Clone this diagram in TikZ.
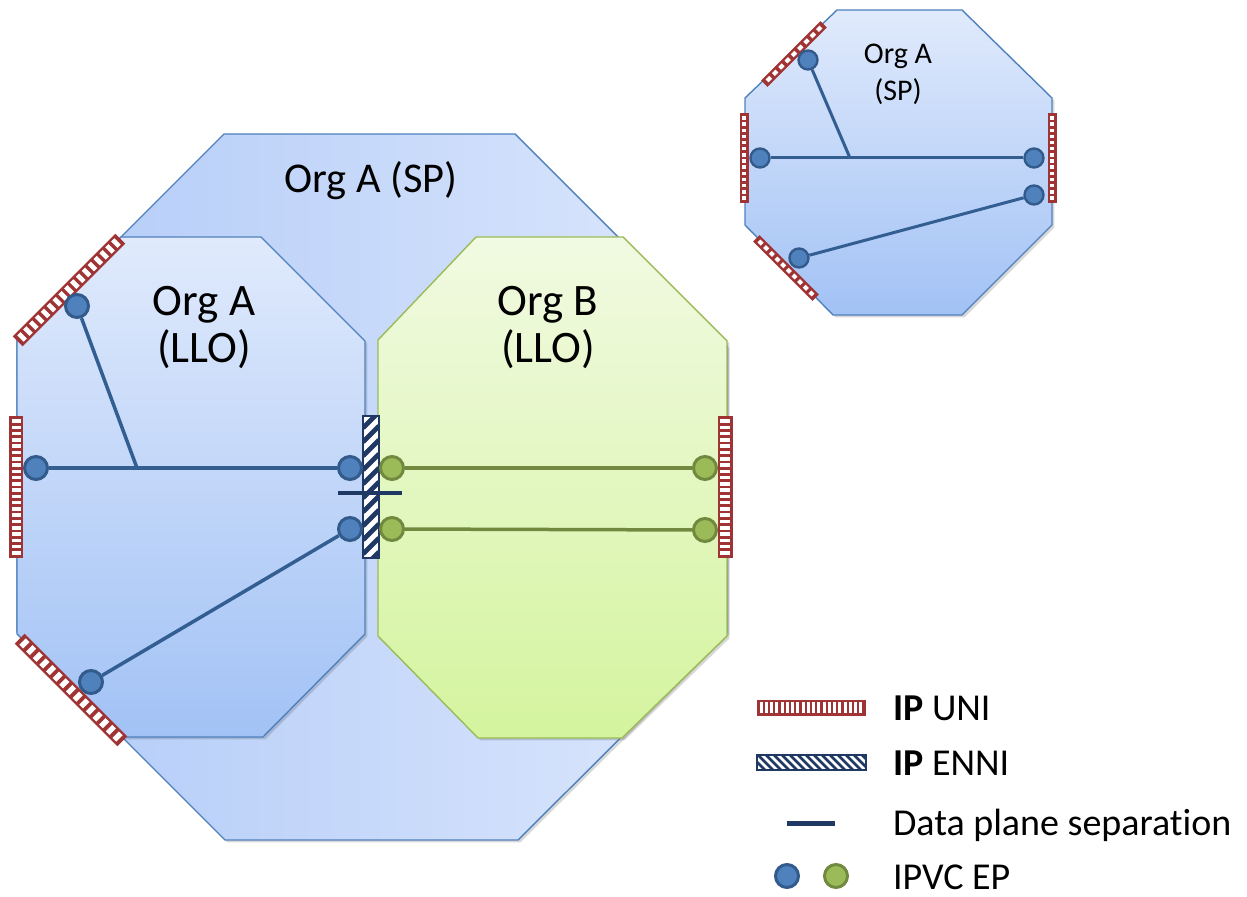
\documentclass[tikz,border=0pt]{standalone}
\usepackage{fontspec}
\setmainfont{Carlito}[Ligatures=NoCommon]
\usetikzlibrary{shadows}
\definecolor{edgeblue}{RGB}{79,129,189}
\definecolor{spleft}{RGB}{178,203,248}
\definecolor{spright}{RGB}{220,231,252}
\definecolor{llotop}{RGB}{224,234,252}
\definecolor{llobot}{RGB}{162,194,245}
\definecolor{edgegreen}{RGB}{155,187,89}
\definecolor{greentop}{RGB}{241,250,226}
\definecolor{greenbot}{RGB}{212,244,158}
\definecolor{epblue}{RGB}{79,129,189}
\definecolor{epblueedge}{RGB}{50,90,138}
\definecolor{epgreen}{RGB}{155,187,89}
\definecolor{epgreenedge}{RGB}{113,137,63}
\definecolor{vcline}{RGB}{50,94,145}
\definecolor{unired}{RGB}{160,52,52}
\definecolor{enninavy}{RGB}{31,56,100}

% UNI bar: centre, angle, length, width, rungs
\newcommand{\unibar}[5]{%
  \begin{scope}[shift={#1},rotate=#2]
    \fill[unired] (-#3/2,-#4/2) rectangle (#3/2,#4/2);
    \pgfmathsetmacro\rungp{(#3-4)/#5}
    \foreach \k in {1,...,#5} {
      \pgfmathsetmacro\rungc{-#3/2+2+(\k-0.5)*\rungp}
      \fill[white] (\rungc-0.28*\rungp,-#4/2+2.5) rectangle (\rungc+0.28*\rungp,#4/2-2.5);
    }
  \end{scope}}

% ENNI bar: centre, angle, length, width, stripe pitch
\newcommand{\ennibar}[5]{%
  \begin{scope}[shift={#1},rotate=#2]
    \fill[white] (-#3/2,-#4/2) rectangle (#3/2,#4/2);
    \begin{scope}
      \clip (-#3/2,-#4/2) rectangle (#3/2,#4/2);
      \foreach \k in {0,...,24} {
        \pgfmathsetmacro\stripex{-#3/2-#4+\k*#5}
        \draw[enninavy,line width=0.17*#5pt] (\stripex-#4/2,-#4/2) -- (\stripex+#4/2,#4/2);
      }
    \end{scope}
    \draw[enninavy,line width=1pt] (-#3/2,-#4/2) rectangle (#3/2,#4/2);
  \end{scope}}

\begin{document}
\begin{tikzpicture}[x=0.5pt,y=-0.5pt,
    softshadow/.style={drop shadow={shadow xshift=1.2pt,shadow yshift=-1.2pt,opacity=0.22,fill=black!70}},
    orgsp/.style={draw=edgeblue,line width=0.7pt,left color=spleft,right color=spright},
    orgllo/.style={draw=edgeblue,line width=0.7pt,top color=llotop,bottom color=llobot},
    orggreen/.style={draw=edgegreen,line width=0.7pt,top color=greentop,bottom color=greenbot},
    epb/.style={circle,draw=epblueedge,fill=epblue,line width=1.5pt,minimum size=11.5pt,inner sep=0pt},
    epg/.style={circle,draw=epgreenedge,fill=epgreen,line width=1.5pt,minimum size=11.5pt,inner sep=0pt},
    epsmall/.style={epb,minimum size=9.5pt,line width=1.2pt},
    vcblue/.style={draw=vcline,line width=1.75pt},
    vcgreen/.style={draw=epgreenedge,line width=1.75pt},
    dpsep/.style={draw=enninavy,line width=2pt},
    orglabel/.style={font=\fontsize{22.5}{23.5}\selectfont,align=center},
    smalllabel/.style={font=\fontsize{15}{18.5}\selectfont,align=center},
    legendtext/.style={font=\fontsize{19}{22}\selectfont,anchor=west}]
  \useasboundingbox (0,0) rectangle (1247,897);

  % Org A (SP) outer octagon
  \path[orgsp,softshadow] (224,134) -- (515,134) -- (727,346) -- (727,632)
    -- (518,840) -- (225,840) -- (17,632) -- (17,341) -- cycle;
  \node[orglabel,font=\fontsize{21.2}{24}\selectfont] (lblsp) at (371,181) {Org A (SP)};

  % Org A (LLO) and Org B (LLO)
  \path[orgllo,softshadow] (121,237) -- (261,237) -- (365,341) -- (365,634)
    -- (263,737) -- (123,737) -- (17,634) -- (17,341) -- cycle;
  \path[orggreen,softshadow] (476,237) -- (623,237) -- (727,341) -- (727,636)
    -- (622,738) -- (478,738) -- (378,636) -- (378,340) -- cycle;
  \node[orglabel] (lblalo) at (204,328) {Org A\\(LLO)};
  \node[orglabel] (lblblo) at (548,328) {Org B\\(LLO)};

  % small Org A (SP)
  \path[orgllo,softshadow] (837,10) -- (962,10) -- (1052,98) -- (1052,225)
    -- (962,315) -- (833,315) -- (745,225) -- (745,98) -- cycle;
  \node[smalllabel] (lblsmall) at (898,74) {Org A\\(SP)};

  % UNIs and ENNI
  \unibar{(69,290)}{45}{145}{14}{17}
  \unibar{(16,487)}{90}{142}{14}{22}
  \unibar{(71,690)}{-45}{145}{14}{15}
  \unibar{(725,487)}{90}{142}{15}{22}
  \ennibar{(371,487)}{90}{142}{16}{14}
  \unibar{(794,54)}{45}{84}{9}{9}
  \unibar{(744,158)}{90}{90}{9}{14}
  \unibar{(1052,158)}{90}{90}{9}{14}
  \unibar{(786,268)}{-45}{84}{9}{10}

  % IPVC end points
  \node[epb] (a1) at (77,306) {};
  \node[epb] (a2) at (36,468) {};
  \node[epb] (a3) at (350,468) {};
  \node[epb] (a4) at (350,529) {};
  \node[epb] (a5) at (91,682) {};
  \coordinate (ja) at (137,468);
  \node[epg] (b1) at (392,468) {};
  \node[epg] (b2) at (705,468) {};
  \node[epg] (b3) at (392,529) {};
  \node[epg] (b4) at (705,530) {};
  \node[epsmall] (s1) at (808,60) {};
  \node[epsmall] (s2) at (760,158) {};
  \node[epsmall] (s3) at (1034,158) {};
  \node[epsmall] (s4) at (1034,195) {};
  \node[epsmall] (s5) at (799,258) {};
  \coordinate (js) at (850,158);

  % IPVCs
  \draw[vcblue] (a2) -- (a3);
  \draw[vcblue] (a1) -- (ja);
  \draw[vcblue] (a5) -- (a4);
  \draw[vcgreen] (b1) -- (b2);
  \draw[vcgreen] (b3) -- (b4);
  \draw[vcblue,line width=1.5pt] (s2) -- (s3);
  \draw[vcblue,line width=1.5pt] (s1) -- (js);
  \draw[vcblue,line width=1.5pt] (s5) -- (s4);

  % data plane separation
  \coordinate (dp1) at (338,493);
  \coordinate (dp2) at (402,493);
  \draw[dpsep] (dp1) -- (dp2);

  % legend
  \unibar{(811,707.5)}{0}{109}{16}{20}
  \node[legendtext] (lguni) at (886,708) {\textbf{IP} UNI};
  \ennibar{(811,762.5)}{0}{109}{15}{8}
  \node[legendtext] (lgenni) at (886,763) {\textbf{IP} ENNI};
  \coordinate (lgdp1) at (787,823);
  \coordinate (lgdp2) at (835,823);
  \draw[dpsep,line width=2.5pt] (lgdp1) -- (lgdp2);
  \node[legendtext] (lgdp) at (886,825) {Data plane separation};
  \node[epb] (lgblue) at (787,876) {};
  \node[epg] (lggreen) at (836,876) {};
  \node[legendtext] (lgep) at (886,877) {IPVC EP};
\end{tikzpicture}
\end{document}
